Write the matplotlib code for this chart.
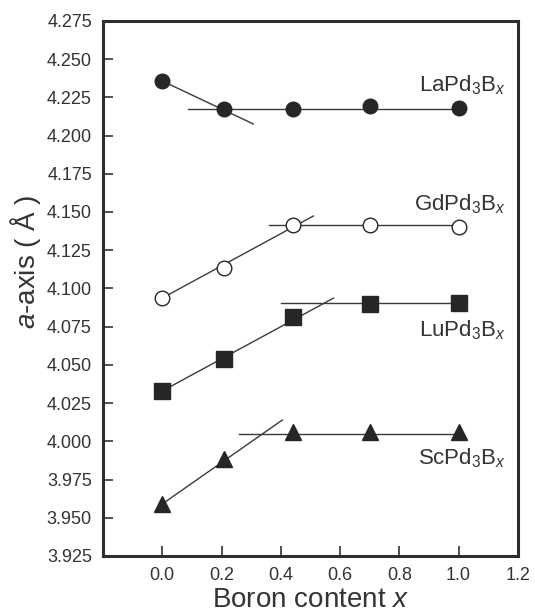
import matplotlib
matplotlib.use("Agg")
import matplotlib.pyplot as plt

plt.rcParams['font.family'] = ['Liberation Sans', 'DejaVu Sans']
plt.rcParams['mathtext.fontset'] = 'custom'
plt.rcParams['mathtext.rm'] = 'Liberation Sans'
plt.rcParams['mathtext.it'] = 'Liberation Sans:italic'

# boron content of the samples
boron = [0.0, 0.21, 0.44, 0.70, 1.0]

la = [4.2357, 4.2174, 4.2174, 4.2196, 4.2180]
gd = [4.0937, 4.1134, 4.1415, 4.1415, 4.1400]
lu = [4.0329, 4.0538, 4.0813, 4.0901, 4.0905]
sc = [3.9590, 3.9884, 4.0060, 4.0060, 4.0060]

# guide lines: (x_start, x_end), (y_start, y_end)
la_slope = ([0.0, 0.307], [4.2357, 4.2076])
la_flat = ([0.088, 1.0], [4.2174, 4.2174])
gd_slope = ([0.0, 0.51], [4.0937, 4.1474])
gd_flat = ([0.36, 1.0], [4.1415, 4.1415])
lu_slope = ([0.0, 0.578], [4.0329, 4.0937])
lu_flat = ([0.40, 1.0], [4.0905, 4.0905])
sc_slope = ([0.0, 0.405], [3.9590, 4.0139])
sc_flat = ([0.26, 1.0], [4.0050, 4.0050])

names = ['LaPd$_3$B$_x$', 'GdPd$_3$B$_x$', 'LuPd$_3$B$_x$', 'ScPd$_3$B$_x$']
name_y = [4.233, 4.155, 4.073, 3.989]

dark = '#262626'
line_c = '#3a3a3a'

fig = plt.figure(figsize=(5.35, 6.15), dpi=100)
ax = fig.add_axes([0.1925, 0.096, 0.7755, 0.870])

for xs, ys in [la_slope, la_flat, gd_slope, gd_flat, lu_slope, lu_flat, sc_slope, sc_flat]:
    ax.plot(xs, ys, color=line_c, lw=1.0, zorder=1)

ax.plot(boron, la, 'o', ms=10.5, mfc=dark, mec=dark, zorder=3)
ax.plot(boron, gd, 'o', ms=10.5, mfc='white', mec=dark, mew=1.0, zorder=3)
ax.plot(boron, lu, 's', ms=11.5, mfc=dark, mec=dark, zorder=3)
ax.plot(boron, sc, '^', ms=11.5, mfc=dark, mec=dark, zorder=3)

for name, y in zip(names, name_y):
    ax.text(1.16, y, name, ha='right', va='center', fontsize=16, color='#333333')

ax.set_xlim(-0.2, 1.2)
ax.set_ylim(3.925, 4.275)
ax.set_xticks([0.0, 0.2, 0.4, 0.6, 0.8, 1.0, 1.2])
ax.set_xticklabels(['0.0', '0.2', '0.4', '0.6', '0.8', '1.0', '1.2'])
ytk = [3.925 + 0.025 * i for i in range(15)]
ax.set_yticks(ytk)
ax.set_yticklabels(['%.3f' % v for v in ytk])

ax.tick_params(direction='in', length=7, width=1.2, labelsize=13, colors='#333333', pad=8)
for s in ax.spines.values():
    s.set_linewidth(2.2)
    s.set_color('#2e2e2e')

ax.set_xlabel('Boron content $x$', fontsize=20, color='#333333', labelpad=2)
ax.set_ylabel('$a$-axis ( Å )', fontsize=20, color='#333333', labelpad=2)
ax.yaxis.set_label_coords(-0.145, 0.55)

fig.savefig('out.png', dpi=100)
